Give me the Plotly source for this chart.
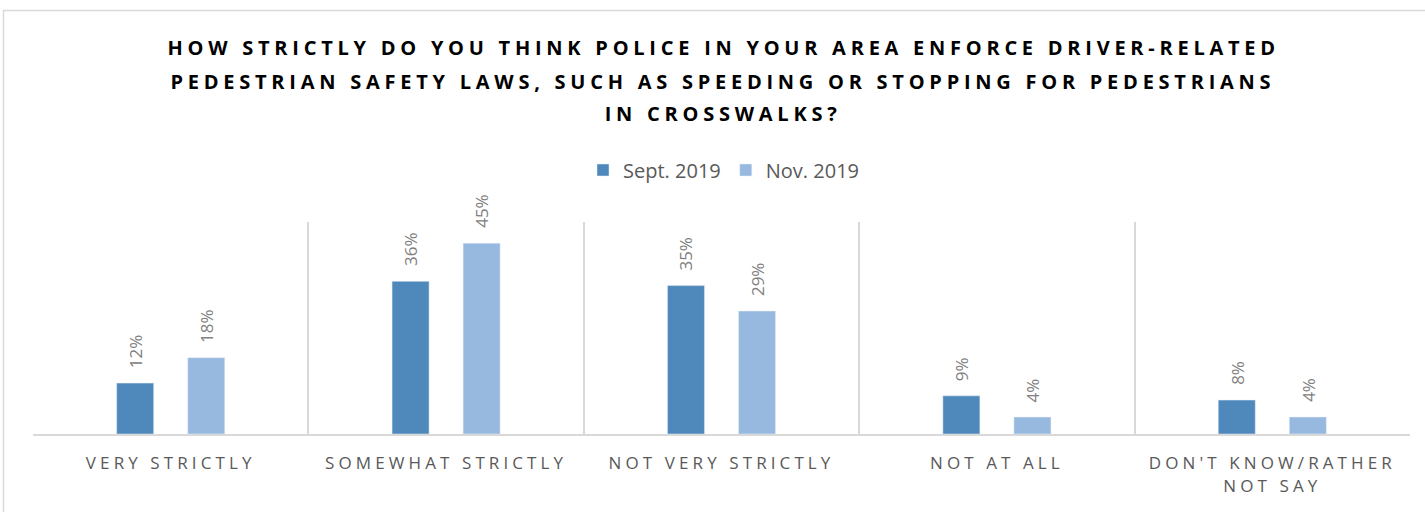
import plotly.graph_objects as go

categories = ["VERY STRICTLY", "SOMEWHAT STRICTLY", "NOT VERY STRICTLY", "NOT AT ALL", "DON'T KNOW/RATHER<br>NOT SAY"]
sept_2019 = [12, 36, 35, 9, 8]
nov_2019 = [18, 45, 29, 4, 4]
series_names = ["Sept. 2019", "Nov. 2019"]
title_lines = [
    "HOW STRICTLY DO YOU THINK POLICE IN YOUR AREA ENFORCE DRIVER-RELATED",
    "PEDESTRIAN SAFETY LAWS, SUCH AS SPEEDING OR STOPPING FOR PEDESTRIANS",
    "IN CROSSWALKS?",
]
colors = ["#4F89BC", "#98B9DF"]

W, H = 1425, 512
L, R, T, B = 33, 15, 222, 78
PW, PH = W - L - R, H - T - B
BARGAP, BARGROUPGAP = 0.484, 0.479

def px_to_paper_x(px):
    return (px - L) / PW

def px_to_paper_y(py):
    return (H - B - py) / PH

fig = go.Figure()
for name, vals, col in zip(series_names, [sept_2019, nov_2019], colors):
    fig.add_trace(go.Bar(x=categories, y=vals, name=name, marker=dict(color=col)))

annotations = []
title_y_px = [47, 81, 114]
for line, ypx in zip(title_lines, title_y_px):
    annotations.append(dict(
        text=line, xref="paper", yref="paper",
        x=px_to_paper_x(723), y=px_to_paper_y(ypx),
        xanchor="center", yanchor="middle", showarrow=False,
        font=dict(family="Open Sans", size=20, color="#000000", weight="bold"),
    ))

# data labels: offset of each bar centre from category centre (pixels)
cat_w = PW / len(categories)
slot_w = cat_w * (1 - BARGAP) / 2
offsets = [-slot_w / 2, slot_w / 2]
for vals, off in zip([sept_2019, nov_2019], offsets):
    for cat, v in zip(categories, vals):
        annotations.append(dict(
            text=f"{v}%", x=cat, y=v, xref="x", yref="y",
            xshift=off, yshift=13, textangle=-90,
            xanchor="center", yanchor="bottom", showarrow=False,
            font=dict(family="Open Sans", size=17, color="#808080"),
        ))

fig.update_layout(
    width=W, height=H,
    margin=dict(l=L, r=R, t=T, b=B, autoexpand=False),
    paper_bgcolor="white", plot_bgcolor="white",
    barmode="group", bargap=BARGAP, bargroupgap=BARGROUPGAP,
    showlegend=True,
    legend=dict(
        orientation="h", x=px_to_paper_x(724), xanchor="center",
        y=px_to_paper_y(170), yanchor="middle",
        font=dict(family="Open Sans", size=20, color="#595959"),
        traceorder="normal",
    ),
    annotations=annotations,
    xaxis=dict(
        type="category",
        tickson="boundaries", ticks="",
        showgrid=True, gridcolor="#D9D9D9", gridwidth=1.5,
        showline=True, linecolor="#D9D9D9", linewidth=2,
        tickfont=dict(family="Open Sans", size=17, color="#595959"),
        ticklabelstandoff=13,
        zeroline=False,
    ),
    yaxis=dict(
        range=[0, 50], showgrid=False, showticklabels=False,
        zeroline=False, showline=False, ticks="",
    ),
    shapes=[dict(
        type="rect", xref="paper", yref="paper",
        x0=px_to_paper_x(3.5), x1=px_to_paper_x(1440),
        y0=px_to_paper_y(530), y1=px_to_paper_y(10.5),
        line=dict(color="#D9D9D9", width=1.5), fillcolor="rgba(0,0,0,0)",
        layer="below",
    )],
)

post_js = """
var s = document.createElement('style');
s.textContent = 'body{margin:0;overflow:hidden;}' +
  '.xtick text{letter-spacing:4.1px;}' +
  '.annotation[data-index="0"] text, .annotation[data-index="1"] text, .annotation[data-index="2"] text{letter-spacing:4.75px;}';
document.head.appendChild(s);
"""

fig.write_html("out.html", post_script=post_js, config={"displayModeBar": False})
